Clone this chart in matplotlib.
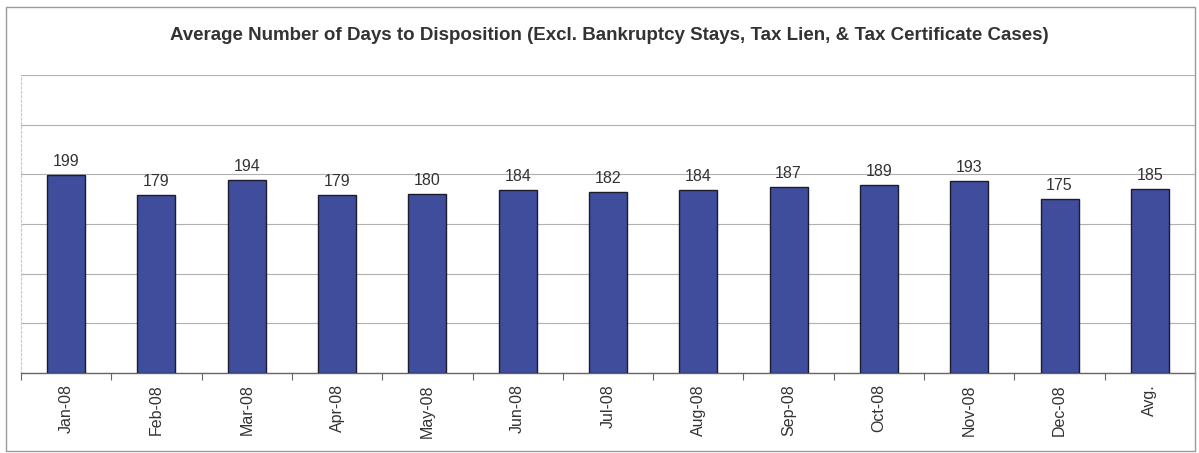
import matplotlib
matplotlib.use("Agg")
import matplotlib.pyplot as plt
import numpy as np

categories = ["Jan-08", "Feb-08", "Mar-08", "Apr-08", "May-08", "Jun-08", "Jul-08",
              "Aug-08", "Sep-08", "Oct-08", "Nov-08", "Dec-08", "Avg."]
values = [199, 179, 194, 179, 180, 184, 182, 184, 187, 189, 193, 175, 185]
title = "Average Number of Days to Disposition (Excl. Bankruptcy Stays, Tax Lien, & Tax Certificate Cases)"

plt.rcParams['font.family'] = ['Liberation Sans', 'DejaVu Sans']

fig = plt.figure(figsize=(11.99, 4.53), dpi=100)
# outer frame
fig.patches.append(plt.Rectangle((6/1199, 2/453), 1189/1199, 444/453, transform=fig.transFigure,
                                 fill=False, edgecolor="#9a9a9a", linewidth=1.0))

ax = fig.add_axes([21/1199, 80/453, 1174/1199, 298/453])
x = np.arange(len(categories))
ax.bar(x, values, width=0.42, color="#3f4d9c", edgecolor="#1c1c2a", linewidth=1.0, zorder=3)
for xi, v in zip(x, values):
    ax.text(xi, v + 6, str(v), ha="center", va="bottom", fontsize=11.5, color="#333333")

ax.set_xlim(-0.5, len(categories) - 0.5)
ax.set_ylim(0, 300)
ax.set_yticks(np.arange(0, 301, 50))
ax.set_yticklabels([])
ax.tick_params(axis="y", length=0)
ax.grid(axis="y", color="#b0b0b0", linewidth=0.8, zorder=0)

ax.set_xticks(x)
ax.set_xticklabels(categories, rotation=90, fontsize=11.5, color="#333333")
ax.tick_params(axis="x", length=0, pad=8)
ax.set_xticks(np.arange(-0.5, len(categories), 1), minor=True)
ax.tick_params(axis="x", which="minor", length=5, color="#666666", width=0.8)

for s in ["top", "right"]:
    ax.spines[s].set_visible(False)
ax.spines["left"].set_color("#c8c8c8")
ax.spines["left"].set_linestyle((0, (2, 2)))
ax.spines["bottom"].set_color("#666666")
ax.spines["bottom"].set_linewidth(1.0)

fig.text(609/1199, 1 - 35/453, title, ha="center", va="center", fontsize=13.5,
         fontweight="bold", color="#333333")

fig.savefig("out.png", dpi=100)
